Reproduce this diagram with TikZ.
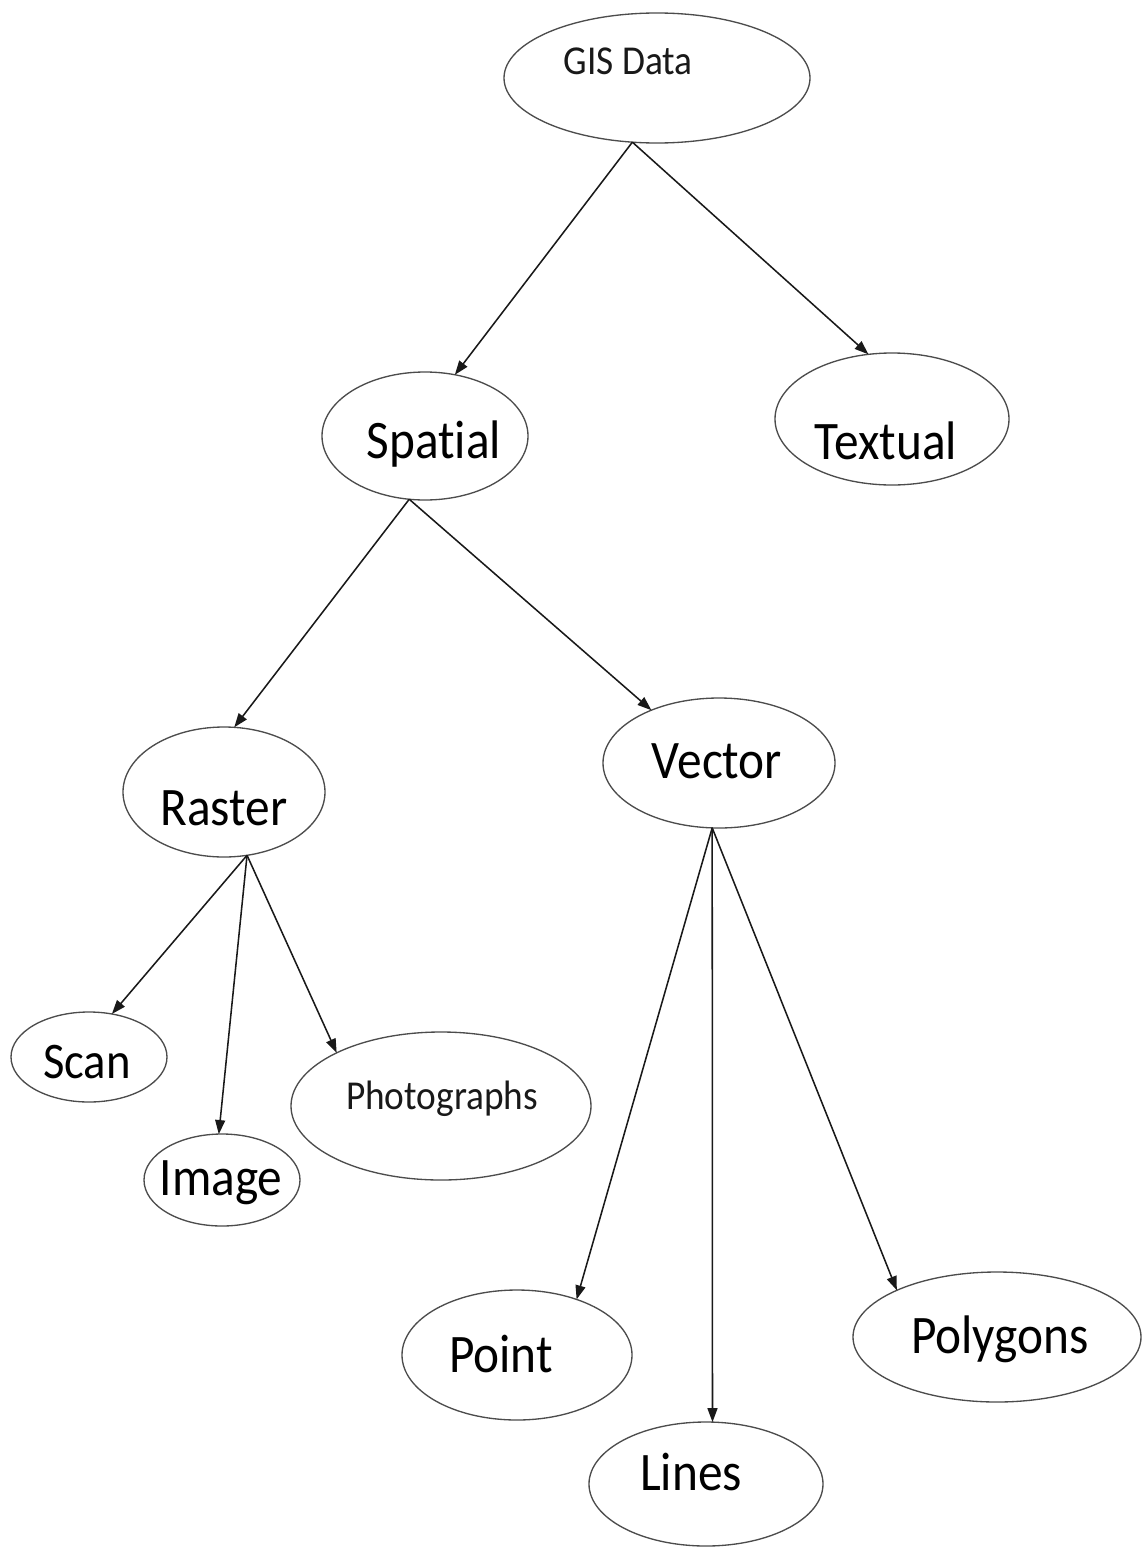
\documentclass[tikz,border=0pt]{standalone}
\usepackage{fontspec}
\setmainfont{Carlito}[Ligatures=NoCommon]
\usetikzlibrary{shapes.geometric,arrows.meta}
\newcommand{\tallt}[1]{\scalebox{1}[1.1]{#1}}
\begin{document}
\begin{tikzpicture}[x=0.75pt,y=-0.75pt,
  oval/.style 2 args={ellipse,draw=black!70,line width=1pt,inner sep=0pt,outer sep=0pt,
    minimum width={#1*1.5pt},minimum height={#2*1.5pt}},
  lbl/.style={anchor=base,inner sep=0pt,text=black,font=\fontsize{37}{40}\selectfont},
  smalllbl/.style={anchor=base,inner sep=0pt,text=black!90,font=\fontsize{28}{30}\selectfont},
  conn/.style={line width=1.15pt,black!90,-{Triangle[length=10.5pt,width=7.5pt]}}]
\useasboundingbox (0,0) rectangle (1143,1549);
\fill[white] (0,0) rectangle (1143,1549);
% ovals
\node[oval={153}{65}] (gis) at (657,78) {};
\node[oval={103}{64}] (spatial) at (425,436) {};
\node[oval={117}{66}] (textual) at (892,419) {};
\node[oval={101}{65}] (raster) at (224,792) {};
\node[oval={116}{65}] (vector) at (719,763) {};
\node[oval={78}{45}] (scan) at (89,1057) {};
\node[oval={78}{46}] (image) at (222,1180) {};
\node[oval={150}{74}] (photo) at (441,1106) {};
\node[oval={115}{65}] (point) at (517,1355) {};
\node[oval={117}{62}] (lines) at (706,1484) {};
\node[oval={144}{65}] (poly) at (997,1337) {};
% labels
\node[smalllbl] (gisT) at (628,74) {\tallt{GIS Data}};
\node[lbl] (spatialT) at (434,458) {\tallt{Spatial}};
\node[lbl] (textualT) at (886,459) {\tallt{Textual}};
\node[lbl] (rasterT) at (224,825) {\tallt{Raster}};
\node[lbl] (vectorT) at (717,778) {\tallt{Vector}};
\node[lbl,font=\fontsize{35}{38}\selectfont] (scanT) at (87,1078) {\tallt{Scan}};
\node[lbl] (imageT) at (221,1195) {\tallt{Image}};
\node[smalllbl] (photoT) at (442,1109) {\tallt{Photographs}};
\node[lbl] (pointT) at (501,1372) {\tallt{Point}};
\node[lbl] (linesT) at (691,1490) {\tallt{Lines}};
\node[lbl] (polyT) at (1000,1353) {\tallt{Polygons}};
% connectors
\draw[conn] (gis.249.5) -- (spatial.64.8);
\draw[conn] (gis.249.5) -- (textual.110);
\draw[conn] (spatial.256.8) -- (raster.81);
\draw[conn] (spatial.256.8) -- (vector.142.6);
\draw[conn] (raster.290) -- (scan.62.5);
\draw[conn] (raster.290) -- (image.94.6);
\draw[conn] (raster.290) -- (photo.153.4);
\draw[conn] (vector.264.7) -- (point.43.4);
\draw[conn] (vector.264.7) -- (lines.84.6);
\draw[conn] (vector.264.7) -- (poly.155.8);
\end{tikzpicture}
\end{document}
